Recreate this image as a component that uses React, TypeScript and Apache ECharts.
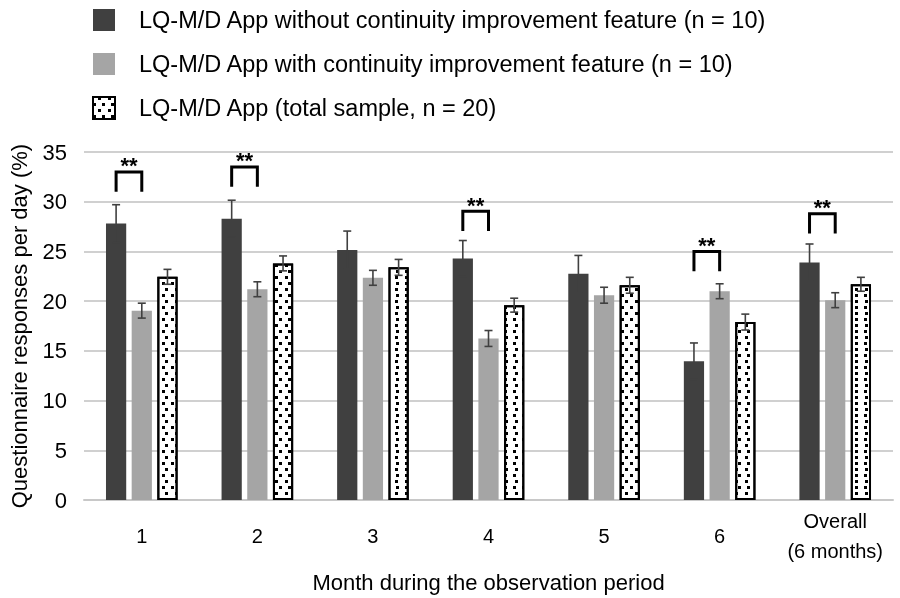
import React, { useEffect, useRef } from "react";
import * as echarts from "echarts";

const categories = ["1", "2", "3", "4", "5", "6", "Overall\n(6 months)"];
const seriesNames = [
  "LQ-M/D App without continuity improvement feature (n = 10)",
  "LQ-M/D App with continuity improvement feature (n = 10)",
  "LQ-M/D App (total sample, n = 20)",
];
const withoutFeature = [27.8, 28.3, 25.15, 24.3, 22.75, 13.95, 23.9];
const withFeature = [19.05, 21.2, 22.35, 16.25, 20.6, 21.0, 20.1];
const totalSample = [22.45, 23.8, 23.4, 19.6, 21.6, 17.9, 21.7];
const errWithout = [1.9, 1.85, 1.9, 1.8, 1.85, 1.85, 1.85];
const errWith = [0.75, 0.75, 0.75, 0.8, 0.8, 0.75, 0.75];
const errTotal = [0.75, 0.75, 0.8, 0.7, 0.8, 0.8, 0.7];
// significance brackets: category index, bracket top value
const sigCategories = [0, 1, 3, 5, 6];
const sigTops = [33.0, 33.5, 29.05, 25.0, 28.8];
const sigLabel = "**";
const yTicks = { min: 0, max: 35, interval: 5 };

const BAR_W = 0.175;
const BAR_GAP = 0.27;

export default function App() {
  const ref = useRef<HTMLDivElement>(null);
  useEffect(() => {
    if (!ref.current) return;
    const chart = echarts.init(ref.current, null, { renderer: "svg" });
    const font = "'Liberation Sans', Arial, sans-serif";
    const colors = ["#404040", "#a5a5a5", "#ffffff"];

    const errData: number[][] = [];
    [withoutFeature, withFeature, totalSample].forEach((vals, s) => {
      const errs = [errWithout, errWith, errTotal][s];
      vals.forEach((v, i) => errData.push([i, s, v, errs[i]]));
    });
    const sigData = sigCategories.map((c, i) => [c, sigTops[i]]);

    const option: any = {
      animation: false,
      textStyle: { fontFamily: font },
      legend: {
        data: seriesNames.map((n) => ({ name: n, icon: "rect" })),
        orient: "vertical",
        left: 87,
        top: 3,
        itemWidth: 22,
        itemHeight: 22,
        itemGap: 20,
        textStyle: { fontSize: 23.5, color: "#000", fontFamily: font, padding: [0, 0, 0, 19] },
        selectedMode: false,
      },
      grid: { left: 77, right: 7, top: 152, bottom: 92, containLabel: false },
      xAxis: {
        type: "category",
        data: categories,
        axisLine: { lineStyle: { color: "#c8c8c8", width: 2 } },
        axisTick: { show: false },
        axisLabel: {
          fontSize: 20,
          color: "#000",
          fontFamily: font,
          margin: 36,
          verticalAlign: "middle",
          lineHeight: 30,
          interval: 0,
        },
        name: "Month during the observation period",
        nameLocation: "middle",
        nameGap: 54,
        nameTextStyle: { fontSize: 22, color: "#000", fontFamily: font },
      },
      yAxis: {
        type: "value",
        min: yTicks.min,
        max: yTicks.max,
        interval: yTicks.interval,
        axisLine: { show: false },
        axisTick: { show: false },
        splitLine: { lineStyle: { color: "#d0d0d0", width: 2 } },
        axisLabel: { fontSize: 22, color: "#000", fontFamily: font, margin: 17, padding: [5, 0, 0, 0] },
        name: "Questionnaire responses per day (%)",
        nameLocation: "middle",
        nameGap: 54,
        nameTextStyle: { fontSize: 22, color: "#000", fontFamily: font },
      },
      series: [
        {
          name: seriesNames[0],
          type: "bar",
          data: withoutFeature,
          barWidth: `${BAR_W * 100}%`,
          barGap: `${BAR_GAP * 100}%`,
          itemStyle: { color: colors[0] },
        },
        {
          name: seriesNames[1],
          type: "bar",
          data: withFeature,
          barWidth: `${BAR_W * 100}%`,
          barGap: `${BAR_GAP * 100}%`,
          itemStyle: { color: colors[1] },
        },
        {
          name: seriesNames[2],
          type: "bar",
          data: totalSample,
          barWidth: `${BAR_W * 100}%`,
          barGap: `${BAR_GAP * 100}%`,
          itemStyle: {
            color: colors[2],
            borderColor: "#000",
            borderWidth: 2,
            decal: {
              symbol: "rect",
              symbolSize: 1,
              color: "#000",
              backgroundColor: "rgba(0,0,0,0)",
              dashArrayX: [[2.5, 6], [0, 4.25, 2.5, 1.75]],
              dashArrayY: [2.5, 2.2],
              rotation: 0,
            },
          },
        },
        {
          type: "custom",
          name: "err",
          data: errData,
          encode: { x: 0, y: 2 },
          z: 10,
          silent: true,
          renderItem: (params: any, api: any) => {
            const cat = api.value(0);
            const s = api.value(1);
            const v = api.value(2);
            const e = api.value(3);
            const band = api.size([1, 0])[0];
            const off = (s - 1) * band * BAR_W * (1 + BAR_GAP);
            const top = api.coord([cat, v + e]);
            const bot = api.coord([cat, v - e]);
            const x = top[0] + off;
            const cap = 4;
            const style = { stroke: "#404040", lineWidth: 1.6, fill: null };
            return {
              type: "group",
              children: [
                { type: "line", shape: { x1: x, y1: top[1], x2: x, y2: bot[1] }, style },
                { type: "line", shape: { x1: x - cap, y1: top[1], x2: x + cap, y2: top[1] }, style },
                { type: "line", shape: { x1: x - cap, y1: bot[1], x2: x + cap, y2: bot[1] }, style },
              ],
            };
          },
        },
        {
          type: "custom",
          name: "sig",
          data: sigData,
          encode: { x: 0, y: 1 },
          z: 10,
          silent: true,
          renderItem: (params: any, api: any) => {
            const cat = api.value(0);
            const topV = api.value(1);
            const band = api.size([1, 0])[0];
            const off = band * BAR_W * (1 + BAR_GAP);
            const top = api.coord([cat, topV]);
            const leg = api.coord([cat, topV - 2]);
            const xL = top[0] - off;
            const xR = top[0];
            return {
              type: "group",
              children: [
                {
                  type: "polyline",
                  shape: { points: [[xL, leg[1]], [xL, top[1]], [xR, top[1]], [xR, leg[1]]] },
                  style: { stroke: "#000", lineWidth: 3, fill: null, lineJoin: "miter" },
                },
                {
                  type: "text",
                  style: {
                    text: sigLabel,
                    x: (xL + xR) / 2,
                    y: top[1] - 17,
                    align: "center",
                    verticalAlign: "top",
                    fontSize: 22,
                    fontWeight: "bold",
                    fontFamily: font,
                    fill: "#000",
                  },
                },
              ],
            };
          },
        },
      ],
    };
    chart.setOption(option);
    return () => chart.dispose();
  }, []);
  return (
    <div
      ref={ref}
      style={{ position: "fixed", left: 0, top: 0, width: 900, height: 598 }}
    />
  );
}
